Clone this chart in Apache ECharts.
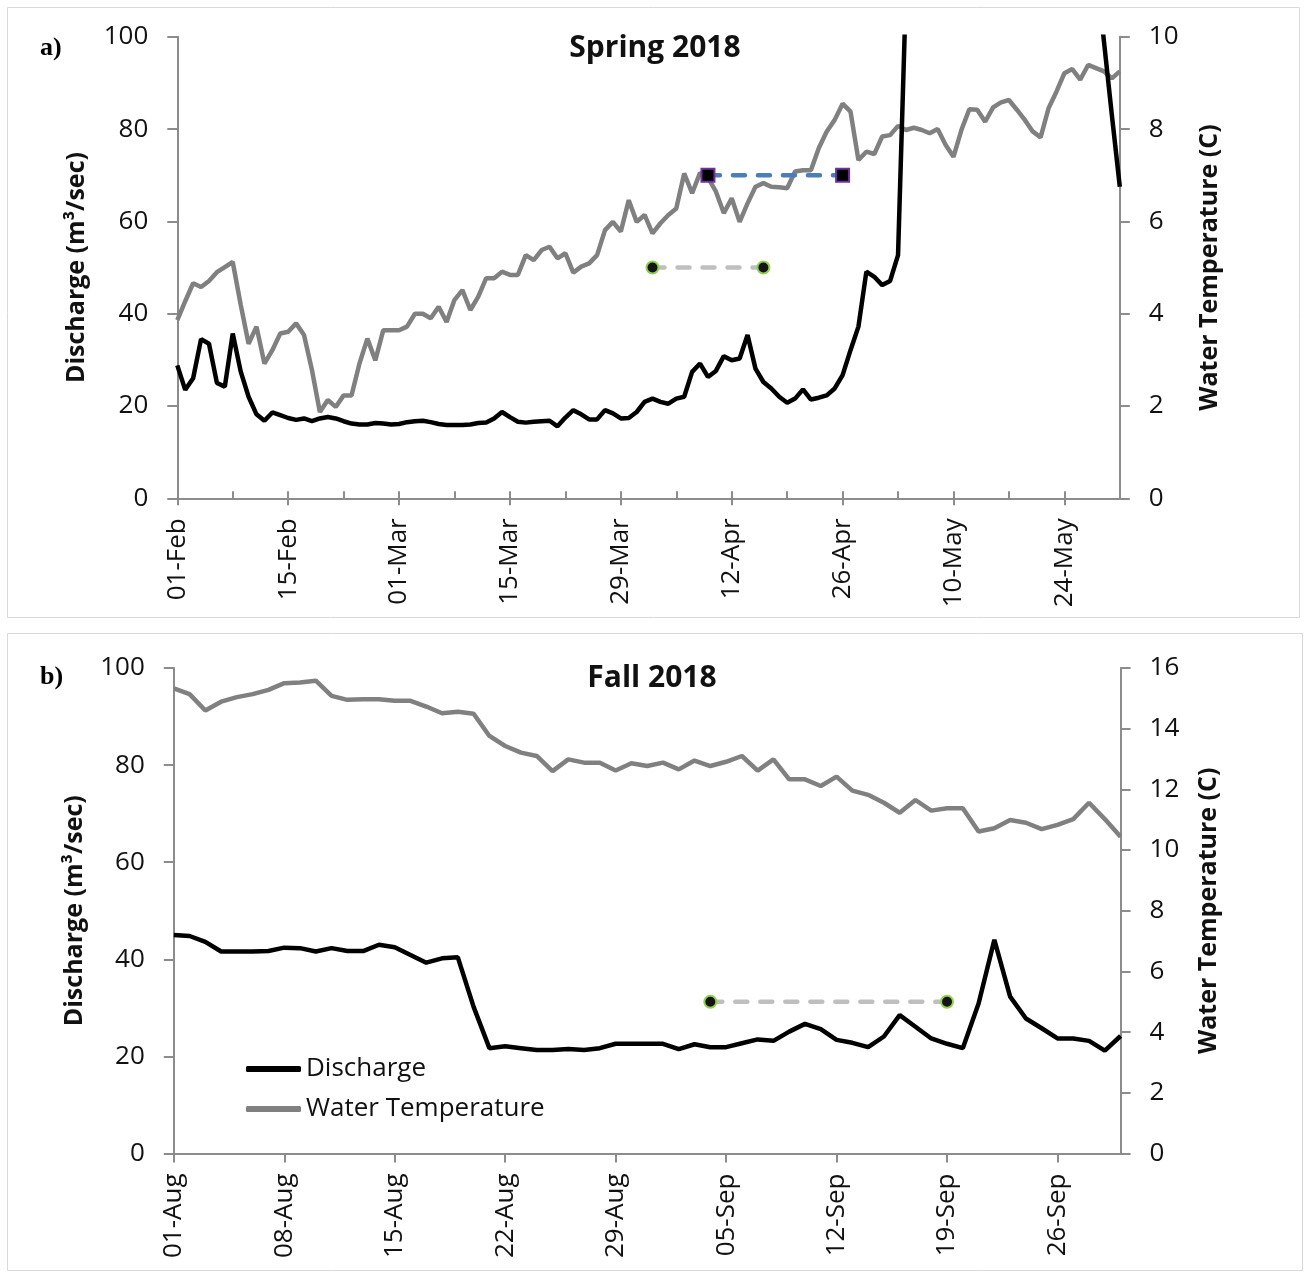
<!DOCTYPE html>
<html>
<head>
<meta charset="utf-8">
<script src="https://cdn.jsdelivr.net/npm/echarts@6/dist/echarts.min.js"></script>
<style>
html,body{margin:0;padding:0;background:#fff;}
#c{width:1305px;height:1274px;}
</style>
</head>
<body>
<div id="c"></div>
<script>
// ---------- categories ----------
const MONTHS = ['Jan','Feb','Mar','Apr','May','Jun','Jul','Aug','Sep','Oct','Nov','Dec'];
function dayLabels(year, month, day, count) {
  const out = [];
  for (let i = 0; i < count; i++) {
    const d = new Date(Date.UTC(year, month, day + i));
    out.push(String(d.getUTCDate()).padStart(2, '0') + '-' + MONTHS[d.getUTCMonth()]);
  }
  return out;
}
const springDates = dayLabels(2018, 1, 1, 120);   // 01-Feb .. 31-May
const fallDates = dayLabels(2018, 7, 1, 61);      // 01-Aug .. 30-Sep

// ---------- series values ----------
// Spring discharge (m3/sec); values far above 100 leave the plot and cannot be read
const springDischarge = [
  28.8, 23.5, 26, 34.5, 33.5, 25, 24.2, 35.7, 27.5, 22,
  18.2, 16.8, 18.6, 18, 17.4, 17, 17.3, 16.7, 17.3, 17.6,
  17.3, 16.7, 16.2, 16, 16, 16.3, 16.2, 16, 16.1, 16.5,
  16.7, 16.8, 16.5, 16.1, 15.9, 15.9, 15.9, 16, 16.3, 16.4,
  17.3, 18.7, 17.6, 16.6, 16.4, 16.6, 16.7, 16.8, 15.6, 17.5,
  19.1, 18.2, 17.1, 17.1, 19.1, 18.4, 17.3, 17.4, 18.7, 20.9,
  21.6, 20.9, 20.5, 21.6, 22.0, 27.4, 29.2, 26.3, 27.6, 30.8,
  29.9, 30.3, 35.4, 28.1, 25.2, 23.8, 22.0, 20.7, 21.6, 23.6,
  21.4, 21.8, 22.3, 23.8, 26.7, 32.1, 37.2, 49.1, 48.0, 46.2,
  47.1, 52.7, 110,
  null, null, null, null, null, null, null, null, null, null,
  null, null, null, null, null, null, null, null, null, null,
  null, null, null,
  115, 99, 83, 67.5
];
// Spring water temperature (C)
const springTemp = [
  3.86, 4.27, 4.66, 4.58, 4.71, 4.90, 5.01, 5.12, 4.2, 3.35,
  3.72, 2.92, 3.21, 3.57, 3.61, 3.79, 3.54, 2.78, 1.87, 2.13,
  1.98, 2.23, 2.23, 2.92, 3.46, 2.99, 3.64, 3.64, 3.64, 3.72,
  4.0, 4.0, 3.9, 4.15, 3.82, 4.3, 4.51, 4.08, 4.37, 4.77,
  4.77, 4.91, 4.84, 4.84, 5.27, 5.16, 5.38, 5.45, 5.20, 5.31,
  4.89, 5.02, 5.09, 5.27, 5.81, 5.99, 5.78, 6.46, 5.99, 6.14,
  5.74, 5.96, 6.14, 6.28, 7.04, 6.61, 7.05, 6.95, 6.65, 6.18,
  6.5, 5.99, 6.39, 6.75, 6.83, 6.75, 6.74, 6.72, 7.08, 7.11,
  7.11, 7.59, 7.95, 8.2, 8.55, 8.38, 7.33, 7.51, 7.46, 7.84,
  7.87, 8.07, 7.98, 8.03, 7.98, 7.91, 8.0, 7.66, 7.40, 7.98,
  8.43, 8.42, 8.16, 8.47, 8.58, 8.63, 8.42, 8.2, 7.95, 7.82,
  8.45, 8.81, 9.21, 9.30, 9.07, 9.39, 9.32, 9.25, 9.10, 9.25
];
// Fall discharge (m3/sec)
const fallDischarge = [
  45, 44.8, 43.6, 41.6, 41.6, 41.6, 41.7, 42.4, 42.3, 41.6,
  42.3, 41.7, 41.7, 43.0, 42.5, 40.9, 39.3, 40.2, 40.4, 30.2,
  21.7, 22.1, 21.7, 21.3, 21.3, 21.5, 21.3, 21.7, 22.6, 22.6,
  22.6, 22.6, 21.5, 22.5, 21.9, 21.9, 22.7, 23.5, 23.2, 25.1,
  26.7, 25.6, 23.4, 22.8, 21.9, 24.1, 28.5, 26.1, 23.7, 22.6,
  21.7, 30.9, 44.0, 32.3, 27.8, 25.8, 23.7, 23.7, 23.2, 21.2,
  24.2
];
// Fall water temperature (C)
const fallTemp = [
  15.33, 15.14, 14.6, 14.89, 15.04, 15.14, 15.28, 15.5, 15.52, 15.58,
  15.08, 14.95, 14.97, 14.97, 14.92, 14.92, 14.73, 14.51, 14.56, 14.49,
  13.76, 13.43, 13.21, 13.1, 12.6, 12.99, 12.88, 12.88, 12.62, 12.86,
  12.77, 12.88, 12.66, 12.95, 12.77, 12.91, 13.1, 12.62, 12.99, 12.33,
  12.33, 12.11, 12.42, 11.96, 11.82, 11.56, 11.23, 11.65, 11.3, 11.38,
  11.38, 10.61, 10.72, 10.99, 10.9, 10.69, 10.83, 11.02, 11.56, 11.02,
  10.44
];
// Temperature reference periods (start date, end date, temperature C)
const springLowPeriod = ['02-Apr', '16-Apr', 5];
const springHighPeriod = ['09-Apr', '26-Apr', 7];
const fallPeriod = ['04-Sep', '19-Sep', 5];

// ---------- tick settings ----------
const dischargeTicks = { min: 0, max: 100, interval: 20 };
const springTempTicks = { min: 0, max: 10, interval: 2 };
const fallTempTicks = { min: 0, max: 16, interval: 2 };

const FONT = 'Open Sans';
const AX = '#8c8c8c';
const TXT = '#111';

function periodData(p) { return [[p[0], p[2]], [p[1], p[2]]]; }

function yAxisBase(grid, pos, ticks, name, gap) {
  return {
    type: 'value', gridIndex: grid, position: pos,
    min: ticks.min, max: ticks.max, interval: ticks.interval,
    name: name, nameLocation: 'middle', nameRotate: 90, nameGap: gap,
    nameTextStyle: { fontFamily: FONT, fontSize: 25, fontWeight: 'bold', color: TXT },
    axisLine: { show: true, lineStyle: { color: AX, width: 2 } },
    axisTick: { show: true, length: 10, lineStyle: { color: AX, width: 2 } },
    axisLabel: { margin: 29, fontFamily: FONT, fontSize: 26, color: TXT },
    splitLine: { show: false }
  };
}

const chart = echarts.init(document.getElementById('c'), null, { renderer: 'canvas' });

chart.setOption({
  animation: false,
  backgroundColor: '#fff',
  title: [
    { text: 'Spring 2018', left: 655, top: 33, textAlign: 'center', padding: 0,
      textStyle: { fontFamily: FONT, fontSize: 30, fontWeight: 'bold', color: TXT } },
    { text: 'Fall 2018', left: 652, top: 663, textAlign: 'center', padding: 0,
      textStyle: { fontFamily: FONT, fontSize: 30, fontWeight: 'bold', color: TXT } }
  ],
  legend: {
    data: ['Discharge', 'Water Temperature'],
    orient: 'vertical', left: 246, top: 1056, padding: 0,
    icon: 'roundRect', itemWidth: 55, itemHeight: 6, itemGap: 14,
    textStyle: { fontFamily: FONT, fontSize: 26, color: TXT },
    selectedMode: false
  },
  graphic: [
    { type: 'rect', silent: true, shape: { x: 7.5, y: 7.5, width: 1292, height: 610 },
      style: { fill: 'none', stroke: '#d9d9d9', lineWidth: 1 } },
    { type: 'rect', silent: true, shape: { x: 7.5, y: 633.5, width: 1295, height: 637 },
      style: { fill: 'none', stroke: '#d9d9d9', lineWidth: 1 } },
    { type: 'text', silent: true, x: 40, y: 48,
      style: { text: 'a)', font: 'bold 26px "Liberation Serif"', fill: '#000', verticalAlign: 'middle' } },
    { type: 'text', silent: true, x: 40, y: 677,
      style: { text: 'b)', font: 'bold 26px "Liberation Serif"', fill: '#000', verticalAlign: 'middle' } }
  ],
  grid: [
    { left: 177.3, top: 36.8, width: 942.5, height: 461.5, containLabel: false },
    { left: 173.8, top: 668, width: 946.8, height: 485.5, containLabel: false }
  ],
  xAxis: [
    {
      type: 'category', gridIndex: 0, data: springDates, boundaryGap: false, position: 'bottom',
      axisLine: { show: true, lineStyle: { color: AX, width: 2 } },
      axisTick: { show: true, inside: true, interval: 6, length: 7, lineStyle: { color: AX, width: 2 } },
      axisLabel: { interval: 13, rotate: 90, margin: 20, fontFamily: FONT, fontSize: 26, color: TXT },
      splitLine: { show: false }
    },
    {
      type: 'category', gridIndex: 0, data: springDates, boundaryGap: false, position: 'bottom',
      axisLine: { show: false },
      axisTick: { show: true, inside: false, interval: 13, length: 7, lineStyle: { color: AX, width: 2 } },
      axisLabel: { show: false },
      splitLine: { show: false }
    },
    {
      type: 'category', gridIndex: 1, data: fallDates, boundaryGap: false, position: 'bottom',
      axisLine: { show: true, lineStyle: { color: AX, width: 2 } },
      axisTick: { show: true, inside: false, interval: 6, length: 9, lineStyle: { color: AX, width: 2 } },
      axisLabel: { interval: 6, rotate: 90, margin: 20, fontFamily: FONT, fontSize: 26, color: TXT },
      splitLine: { show: false }
    }
  ],
  yAxis: [
    yAxisBase(0, 'left', dischargeTicks, 'Discharge (m³/sec)', 88),
    yAxisBase(0, 'right', springTempTicks, 'Water Temperature (C)', 78),
    yAxisBase(1, 'left', dischargeTicks, 'Discharge (m³/sec)', 86),
    yAxisBase(1, 'right', fallTempTicks, 'Water Temperature (C)', 76)
  ],
  series: [
    { name: 'Water Temperature', type: 'line', xAxisIndex: 0, yAxisIndex: 1, data: springTemp,
      symbol: 'none', color: '#808080', lineStyle: { color: '#808080', width: 4.5 }, z: 2 },
    { name: 'Discharge', type: 'line', xAxisIndex: 0, yAxisIndex: 0, data: springDischarge,
      symbol: 'none', color: '#000', lineStyle: { color: '#000', width: 4.5 }, z: 3 },
    { name: 'Spring 5C', type: 'line', xAxisIndex: 0, yAxisIndex: 1, data: periodData(springLowPeriod),
      symbol: 'circle', symbolSize: 12, showSymbol: true, showAllSymbol: true,
      itemStyle: { color: '#151515', borderColor: '#92d050', borderWidth: 2 },
      lineStyle: { color: '#bfbfbf', width: 4.5, type: [12, 13], cap: 'round' }, z: 4 },
    { name: 'Spring 7C', type: 'line', xAxisIndex: 0, yAxisIndex: 1, data: periodData(springHighPeriod),
      symbol: 'rect', symbolSize: 13, showSymbol: true, showAllSymbol: true,
      itemStyle: { color: '#000', borderColor: '#7030a0', borderWidth: 2 },
      lineStyle: { color: '#4a7ebb', width: 4.5, type: [12, 13], cap: 'round' }, z: 4 },
    { name: 'Water Temperature', type: 'line', xAxisIndex: 2, yAxisIndex: 3, data: fallTemp,
      symbol: 'none', color: '#808080', lineStyle: { color: '#808080', width: 4.5 }, z: 2 },
    { name: 'Discharge', type: 'line', xAxisIndex: 2, yAxisIndex: 2, data: fallDischarge,
      symbol: 'none', color: '#000', lineStyle: { color: '#000', width: 4.5 }, z: 3 },
    { name: 'Fall 5C', type: 'line', xAxisIndex: 2, yAxisIndex: 3, data: periodData(fallPeriod),
      symbol: 'circle', symbolSize: 12, showSymbol: true, showAllSymbol: true,
      itemStyle: { color: '#151515', borderColor: '#92d050', borderWidth: 2 },
      lineStyle: { color: '#bfbfbf', width: 4.5, type: [12, 13], cap: 'round' }, z: 4 }
  ]
});
</script>
</body>
</html>
